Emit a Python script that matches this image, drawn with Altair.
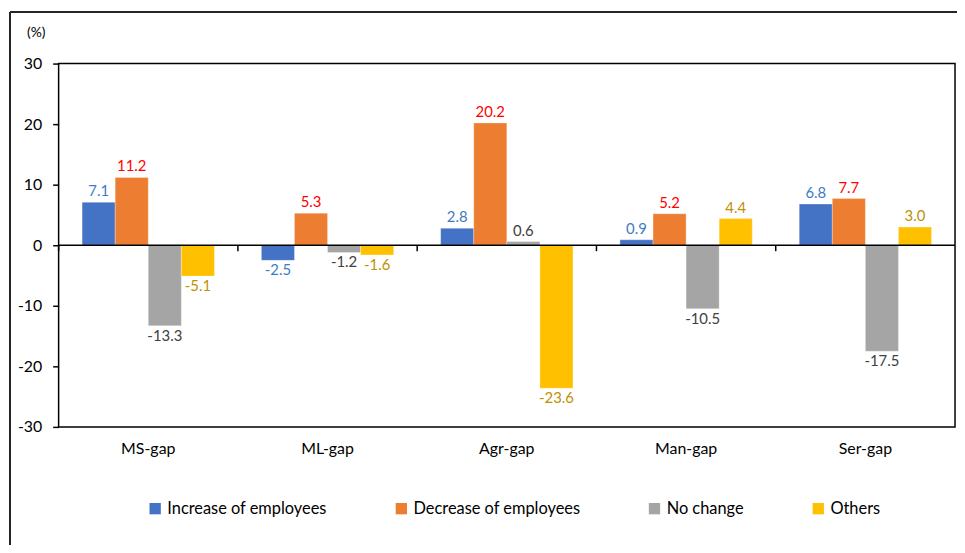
import altair as alt
import pandas as pd

categories = ["MS-gap", "ML-gap", "Agr-gap", "Man-gap", "Ser-gap"]
series = ["Increase of employees", "Decrease of employees", "No change", "Others"]
increase = [7.1, -2.5, 2.8, 0.9, 6.8]
decrease = [11.2, 5.3, 20.2, 5.2, 7.7]
no_change = [-13.3, -1.2, 0.6, -10.5, -17.5]
others = [-5.1, -1.6, -23.6, 4.4, 3.0]
y_ticks = [-30, -20, -10, 0, 10, 20, 30]

bar_colors = ["#4472C4", "#ED7D31", "#A5A5A5", "#FFC000"]
label_colors = ["#3E7CC4", "#FF0000", "#404040", "#BF9000"]

rows = []
for s, vals in zip(series, [increase, decrease, no_change, others]):
    for c, v in zip(categories, vals):
        rows.append({"category": c, "series": s, "value": v})
df = pd.DataFrame(rows)

FONT = "Lato"

x_enc = alt.X("category:N", sort=categories, title=None,
              scale=alt.Scale(paddingInner=0, paddingOuter=0),
              axis=alt.Axis(labelAngle=0, labelFontSize=16, labelFont=FONT,
                            labelColor="#000000", ticks=False, domain=False,
                            labelPadding=14))
xoff = alt.XOffset("series:N", sort=series,
                   scale=alt.Scale(domain=series, paddingInner=0, paddingOuter=0.71))
y_enc = alt.Y("value:Q", title="(%)",
              scale=alt.Scale(domain=[-30, 30], nice=False, zero=False),
              axis=alt.Axis(values=y_ticks, grid=False, domain=False, tickSize=6,
                            tickColor="#000000", tickWidth=1.5,
                            labelExpr="'' + datum.value",
                            labelFontSize=16, labelFont=FONT, labelColor="#000000",
                            labelPadding=11, titleAngle=0, titleX=-23, titleY=-31,
                            titleAlign="center", titleBaseline="middle",
                            titleFontSize=14, titleFont=FONT, titleFontWeight="normal",
                            titleColor="#000000"))

base = alt.Chart(df).transform_calculate(
    label="replace(format(datum.value, '.1f'), '\u2212', '-')"
)

bars = base.mark_bar(stroke="#FFFFFF", strokeWidth=0.6, strokeOpacity=0.5).encode(
    x=x_enc, xOffset=xoff, y=y_enc,
    color=alt.Color("series:N", sort=series,
                    scale=alt.Scale(domain=series, range=bar_colors),
                    legend=alt.Legend(title=None, orient="none", direction="horizontal",
                                      legendX=89, legendY=440, symbolType="square",
                                      symbolSize=130, symbolStrokeWidth=0,
                                      labelFontSize=16.5, labelFont=FONT,
                                      labelColor="#000000", labelLimit=400,
                                      labelOffset=4, columnPadding=66)),
)

label_color = alt.Color("series:N", sort=series,
                        scale=alt.Scale(domain=series, range=label_colors), legend=None)

pos_labels = base.transform_filter("datum.value >= 0").mark_text(
    baseline="bottom", dy=-3, fontSize=15, font=FONT
).encode(x=alt.X("category:N", sort=categories), xOffset=xoff, y="value:Q",
         text="label:N", color=label_color)

neg_labels = base.transform_filter("datum.value < 0").mark_text(
    baseline="top", dy=3, fontSize=15, font=FONT
).encode(x=alt.X("category:N", sort=categories), xOffset=xoff, y="value:Q",
         text="label:N", color=label_color)

zero_line = alt.Chart(pd.DataFrame({"z": [0]})).mark_rule(
    color="#000000", strokeWidth=1.5
).encode(y=alt.Y("z:Q"))

tick_df = pd.DataFrame({"category": categories, "z": [0] * len(categories)})
cat_ticks = alt.Chart(tick_df).mark_rule(
    color="#000000", strokeWidth=1.5, y2Offset=6
).encode(x=alt.X("category:N", sort=categories, bandPosition=0),
         y=alt.Y("z:Q"), y2=alt.Y2("z"))

frame_left = alt.Chart(tick_df).mark_rule(color="#262626", strokeWidth=1.5).encode(
    x=alt.value(-49), y=alt.value(-52), y2=alt.value(520))
frame_top = alt.Chart(tick_df).mark_rule(color="#262626", strokeWidth=1.5).encode(
    x=alt.value(-49), x2=alt.value(920), y=alt.value(-52))

chart = alt.layer(
    bars, zero_line, cat_ticks, pos_labels, neg_labels, frame_left, frame_top
).resolve_scale(color="independent").properties(
    width=903, height=366,
    autosize=alt.AutoSizeParams(type="none"),
    padding={"left": 51, "top": 54, "right": 2, "bottom": 117},
    background="white",
).configure_view(stroke="#000000", strokeWidth=1.5)

chart.save("out.html", embed_options={"renderer": "svg", "actions": False})
